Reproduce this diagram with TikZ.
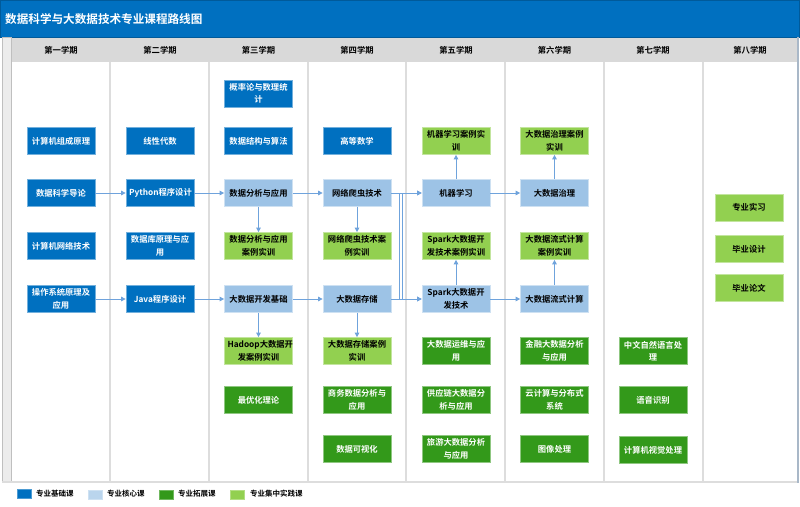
\documentclass[tikz,border=0pt]{standalone}
\usepackage{fontspec}
\setmainfont{Noto Sans CJK SC}[BoldFont=Noto Sans CJK SC Bold]
\usetikzlibrary{arrows.meta}
\definecolor{tblue}{HTML}{0070C0}
\definecolor{dblue}{HTML}{0070C0}
\definecolor{lblue}{HTML}{9DC3E6}
\definecolor{dgreen}{HTML}{33991A}
\definecolor{lgreen}{HTML}{92D050}
\definecolor{hdr}{HTML}{D9D9D9}
\definecolor{divc}{HTML}{DDDDDD}
\definecolor{arrc}{HTML}{6FA3DC}
\definecolor{edgec}{HTML}{A9B8C8}
\tikzset{
  sbase/.style={rectangle, minimum height=27pt, text width=62pt, inner xsep=3pt, inner ysep=0pt,
    align=center, font=\bfseries\fontsize{8.3}{12.5}\selectfont, line width=0.7pt},
  sfound/.style={sbase, fill=dblue, draw=dblue!55!white, text=white},
  score/.style={sbase, fill=lblue, draw=lblue!50!white, text=black},
  sext/.style={sbase, fill=dgreen, draw=dgreen!55!white, text=white},
  sprac/.style={sbase, fill=lgreen, draw=lgreen!55!white, text=black},
  arr/.style={draw=arrc, line width=0.8pt, -{Triangle[length=4.5pt,width=4.5pt]}},
  hdrtext/.style={font=\bfseries\fontsize{8.3}{10}\selectfont, text=black},
  legtext/.style={font=\bfseries\fontsize{7.5}{9}\selectfont, text=black, anchor=west, inner sep=0pt},
}
\begin{document}
\begin{tikzpicture}[x=1pt,y=-1pt]
\useasboundingbox (0,0) rectangle (800,506);
\fill[white] (0,0) rectangle (800,506);
% title bar
\filldraw[fill=tblue, draw=tblue!80!black, line width=0.6pt] (0.5,0.5) rectangle (799,37);
\node[anchor=west, text=white, inner sep=0pt, font=\bfseries\fontsize{11.6}{13}\selectfont] (title) at (5,19.5) {数据科学与大数据技术专业课程路线图};
% left strip
\filldraw[fill=gray!15, draw=gray!50, line width=0.8pt] (2.5,37) rectangle (11,482);
% header row
\fill[hdr] (11.5,37.5) rectangle (798,62);
% body edges
\draw[divc, line width=1.2pt] (2,482) -- (798,482);
\draw[edgec, line width=1.2pt] (798,37) -- (798,482.6);
% dividers
\foreach \x in {110,209,308,406,505,604,703} \draw[divc, line width=1.2pt] (\x,62) -- (\x,482);
% headers
\node[hdrtext] (h1) at (61,50) {第一学期};
\node[hdrtext] (h2) at (160,50) {第二学期};
\node[hdrtext] (h3) at (258.5,50) {第三学期};
\node[hdrtext] (h4) at (357,50) {第四学期};
\node[hdrtext] (h5) at (456,50) {第五学期};
\node[hdrtext] (h6) at (554.5,50) {第六学期};
\node[hdrtext] (h7) at (653,50) {第七学期};
\node[hdrtext] (h8) at (750,50) {第八学期};
% column 1
\node[sfound] (jsjzc) at (61,141) {计算机组成原理};
\node[sfound] (sjkx) at (61,193) {数据科学导论};
\node[sfound] (jsjwl) at (61,246) {计算机网络技术};
\node[sfound] (czxt) at (61,299) {操作系统原理及\\应用};
% column 2
\node[sfound] (xxds) at (160,141) {线性代数};
\node[sfound] (python) at (160,193) {Python程序设计};
\node[sfound] (sjk) at (160,246) {数据库原理与应\\用};
\node[sfound] (java) at (160,299) {Java程序设计};
% column 3
\node[sfound] (gll) at (258.5,93.5) {概率论与数理统\\计};
\node[sfound] (sjjg) at (258.5,141) {数据结构与算法};
\node[score] (sjfx) at (258.5,193) {数据分析与应用};
\node[sprac] (sjfxsx) at (258.5,246) {数据分析与应用\\案例实训};
\node[score] (dsjkf) at (258.5,299) {大数据开发基础};
\node[sprac] (hadoop) at (258.5,351) {Hadoop大数据开\\发案例实训};
\node[sext] (zyh) at (258.5,400) {最优化理论};
% column 4
\node[sfound] (gdsx) at (357,141) {高等数学};
\node[score] (pachong) at (357,193) {网络爬虫技术};
\node[sprac] (pachongsx) at (357,246) {网络爬虫技术案\\例实训};
\node[score] (cunchu) at (357,299) {大数据存储};
\node[sprac] (cunchusx) at (357,351) {大数据存储案例\\实训};
\node[sext] (swsj) at (357,400) {商务数据分析与\\应用};
\node[sext] (ksh) at (357,449) {数据可视化};
% column 5
\node[sprac] (jqxxsx) at (456,141) {机器学习案例实\\训};
\node[score] (jqxx) at (456,193) {机器学习};
\node[sprac] (sparksx) at (456,246) {Spark大数据开\\发技术案例实训};
\node[score] (spark) at (456,299) {Spark大数据开\\发技术};
\node[sext] (yunwei) at (456,351) {大数据运维与应\\用};
\node[sext] (gyl) at (456,400) {供应链大数据分\\析与应用};
\node[sext] (lvyou) at (456,449) {旅游大数据分析\\与应用};
% column 6
\node[sprac] (zhilisx) at (554.5,141) {大数据治理案例\\实训};
\node[score] (zhili) at (554.5,193) {大数据治理};
\node[sprac] (liushisx) at (554.5,246) {大数据流式计算\\案例实训};
\node[score] (liushi) at (554.5,299) {大数据流式计算};
\node[sext] (jinrong) at (554.5,351) {金融大数据分析\\与应用};
\node[sext] (yun) at (554.5,400) {云计算与分布式\\系统};
\node[sext] (tuxiang) at (554.5,449) {图像处理};
% column 7
\node[sext] (nlp) at (653,351) {中文自然语言处\\理};
\node[sext] (yuyin) at (653,400) {语音识别};
\node[sext] (cv) at (653,450) {计算机视觉处理};
% column 8
\node[sprac] (sx) at (749,207.5) {专业实习};
\node[sprac] (sheji) at (749,249) {毕业设计};
\node[sprac] (lunwen) at (749,288) {毕业论文};
% connectors
\draw[arr] (sjkx.east) -- (python.west);
\draw[arr] (python.east) -- (sjfx.west);
\draw[arr] (sjfx.east) -- (pachong.west);
\draw[arr] (sjfx.south) -- (sjfxsx.north);
\draw[arr] (czxt.east) -- (java.west);
\draw[arr] (java.east) -- (dsjkf.west);
\draw[arr] (dsjkf.east) -- (cunchu.west);
\draw[arr] (dsjkf.south) -- (hadoop.north);
\draw[arr] (pachong.south) -- (pachongsx.north);
\draw[arr] (cunchu.south) -- (cunchusx.north);
\coordinate (j1) at (399.5,193);
\coordinate (j2) at (402.5,299);
\draw[arr] (pachong.east) -- (jqxx.west);
\draw[arr] (pachong.east) -- (j1) |- (spark.west);
\draw[arr] (cunchu.east) -- (spark.west);
\draw[arr] (cunchu.east) -- (j2) |- (jqxx.west);
\draw[arr] (jqxx.north) -- (jqxxsx.south);
\draw[arr] (spark.north) -- (sparksx.south);
\draw[arr] (jqxx.east) -- (zhili.west);
\draw[arr] (spark.east) -- (liushi.west);
\draw[arr] (zhili.north) -- (zhilisx.south);
\draw[arr] (liushi.north) -- (liushisx.south);
% legend
\filldraw[fill=dblue, draw=dblue!70!white, line width=0.5pt] (17,489) rectangle (31,498.5);
\node[legtext] (l1) at (36,493.5) {专业基础课};
\filldraw[fill=lblue!70!white, draw=lblue!50!white, line width=0.5pt] (88,490) rectangle (102,499.5);
\node[legtext] (l2) at (107,493.5) {专业核心课};
\filldraw[fill=dgreen, draw=dgreen!70!white, line width=0.5pt] (159,490) rectangle (173,499.5);
\node[legtext] (l3) at (178,493.5) {专业拓展课};
\filldraw[fill=lgreen, draw=lgreen!70!white, line width=0.5pt] (230,490) rectangle (244,499.5);
\node[legtext] (l4) at (250,493.5) {专业集中实践课};
\end{tikzpicture}
\end{document}
